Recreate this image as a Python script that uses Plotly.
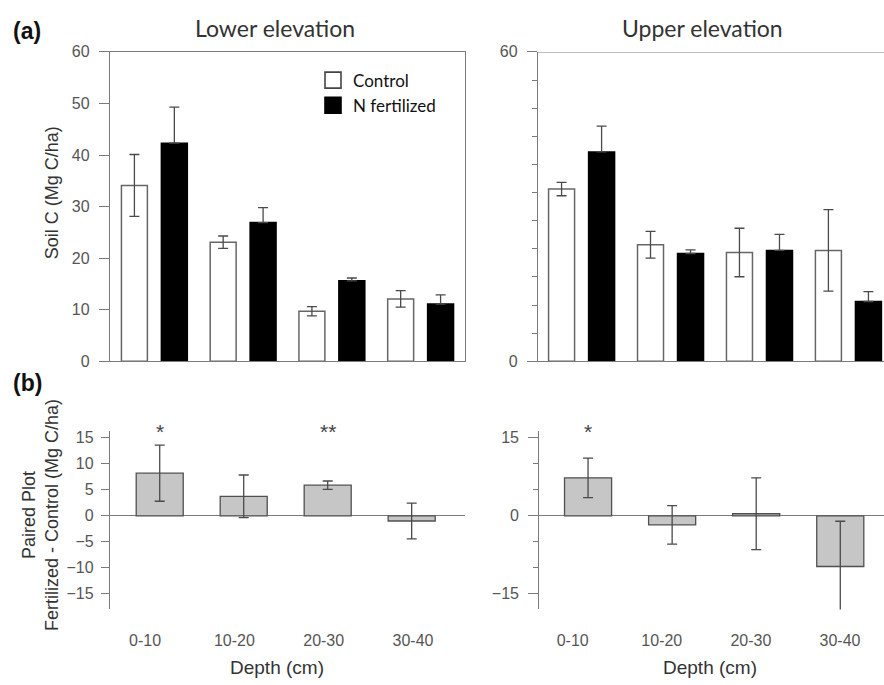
import plotly.graph_objects as go

# ---------------- data ----------------
depths = ["0-10", "10-20", "20-30", "30-40"]

lower_control = [34.1, 23.1, 9.7, 12.1]
lower_control_se = [6.0, 1.2, 0.9, 1.6]
lower_nfert = [42.3, 26.9, 15.6, 11.1]
lower_nfert_se = [7.0, 2.9, 0.55, 1.8]

upper_control = [33.4, 22.6, 21.1, 21.5]
upper_control_se = [1.3, 2.6, 4.7, 7.9]
upper_nfert = [40.6, 20.9, 21.5, 11.6]
upper_nfert_se = [5.0, 0.7, 3.1, 1.9]

diff_lower = [8.2, 3.75, 5.9, -1.0]
diff_lower_se = [5.4, 4.1, 0.8, 3.45]
diff_upper = [7.3, -1.75, 0.4, -9.75]
diff_upper_se = [3.8, 3.7, 6.9, 8.7]

sig_lower = ["*", "", "**", ""]
sig_upper = ["*", "", "", ""]

top_ticks = [0, 10, 20, 30, 40, 50, 60]
upper_minor = [i * 60 / 11 for i in range(12)]
diff_ticks = [-15, -10, -5, 0, 5, 10, 15]

# ---------------- style ----------------
W, H = 884, 685
AX = "#7a7a7a"
TXT = "#555555"
ERR = "#4a4a4a"
TICKFONT = dict(family="Liberation Sans, Arial", size=16, color=TXT)
CTRL_MARK = dict(color="white", line=dict(color="#666666", width=1.5))
NF_MARK = dict(color="black", line=dict(color="black", width=1.5))

def px_x(p):
    return p / W

def px_y(p):
    return 1 - p / H

fig = go.Figure()

def err(arr, one_sided=False):
    d = dict(type="data", array=arr, color=ERR, thickness=1.3, width=5)
    if one_sided:
        d.update(symmetric=False, arrayminus=[0] * len(arr))
    return d

fig.add_trace(go.Bar(x=depths, y=lower_control, name="Control", showlegend=False,
                     marker=CTRL_MARK, error_y=err(lower_control_se),
                     xaxis="x", yaxis="y", offsetgroup="c"))
fig.add_trace(go.Bar(x=depths, y=lower_nfert, name="N fertilized", showlegend=False,
                     marker=NF_MARK, error_y=err(lower_nfert_se, True),
                     xaxis="x", yaxis="y", offsetgroup="n"))
fig.add_trace(go.Bar(x=depths, y=upper_control, name="Control", showlegend=False,
                     marker=CTRL_MARK, error_y=err(upper_control_se),
                     xaxis="x2", yaxis="y2", offsetgroup="c"))
fig.add_trace(go.Bar(x=depths, y=upper_nfert, name="N fertilized", showlegend=False,
                     marker=NF_MARK, error_y=err(upper_nfert_se, True),
                     xaxis="x2", yaxis="y2", offsetgroup="n"))
gray_marker = dict(color="#c6c6c6", line=dict(color="#505050", width=1.3))
fig.add_trace(go.Bar(x=depths, y=diff_lower, showlegend=False, width=0.56,
                     marker=gray_marker, error_y=err(diff_lower_se),
                     xaxis="x3", yaxis="y3"))
fig.add_trace(go.Bar(x=depths, y=diff_upper, showlegend=False, width=0.56,
                     marker=gray_marker, error_y=err(diff_upper_se),
                     xaxis="x4", yaxis="y4"))
# carriers for the depth tick-label axes (invisible)
fig.add_trace(go.Scatter(x=depths, y=[0] * 4, mode="markers", marker=dict(opacity=0),
                         showlegend=False, hoverinfo="skip", xaxis="x5", yaxis="y3"))
fig.add_trace(go.Scatter(x=depths, y=[0] * 4, mode="markers", marker=dict(opacity=0),
                         showlegend=False, hoverinfo="skip", xaxis="x6", yaxis="y4"))
# legend keys (larger square swatches, as in the original legend)
fig.add_trace(go.Scatter(x=[None], y=[None], mode="markers", name="Control",
                         marker=dict(symbol="square", size=16, color="white",
                                     line=dict(color="#444444", width=1.6)),
                         xaxis="x", yaxis="y"))
fig.add_trace(go.Scatter(x=[None], y=[None], mode="markers", name="N fertilized",
                         marker=dict(symbol="square", size=16, color="black",
                                     line=dict(color="black", width=1.6)),
                         xaxis="x", yaxis="y"))

top_dom = [px_y(362.3), px_y(45)]
bot_dom = [px_y(616.7), px_y(433.3)]

fig.update_layout(
    width=W, height=H, margin=dict(l=0, r=0, t=0, b=0), autosize=False,
    paper_bgcolor="white", plot_bgcolor="white",
    barmode="group", bargap=0.1, bargroupgap=0.35,
    showlegend=True,
    legend=dict(x=px_x(313), y=px_y(56), xanchor="left", yanchor="top",
                font=dict(family="Lato", size=17, color="#111111"),
                bgcolor="rgba(0,0,0,0)", tracegroupgap=0, itemwidth=30),
    xaxis=dict(domain=[px_x(110), px_x(465)], range=[-0.5, 3.5], type="category",
               showline=True, linecolor=AX, linewidth=1.3, mirror=True,
               showticklabels=False, ticks="", showgrid=False, anchor="y"),
    yaxis=dict(domain=top_dom, range=[0, 60], tickvals=top_ticks,
               showline=True, linecolor=AX, linewidth=1.3, mirror=True,
               ticks="outside", ticklen=10, tickcolor=AX, tickwidth=1.3,
               tickfont=TICKFONT, ticklabelstandoff=6, showgrid=False,
               zeroline=False, anchor="x"),
    xaxis2=dict(domain=[px_x(538), 1.0], range=[-0.49, 3.40], type="category",
                showline=True, linecolor=AX, linewidth=1.3,
                showticklabels=False, ticks="", showgrid=False, anchor="y2"),
    yaxis2=dict(domain=top_dom, range=[0, 60], tickvals=[0, 60],
                showline=True, linecolor=AX, linewidth=1.3,
                ticks="outside", ticklen=10, tickcolor=AX, tickwidth=1.3,
                minor=dict(tickvals=upper_minor, ticks="outside", ticklen=5,
                           tickcolor=AX, tickwidth=1.3, showgrid=False),
                tickfont=TICKFONT, ticklabelstandoff=6, showgrid=False,
                zeroline=False, anchor="x2"),
    xaxis3=dict(domain=[px_x(110), px_x(465)], range=[-0.592, 3.635], type="category",
                showline=False, showticklabels=False, ticks="", showgrid=False,
                anchor="y3"),
    yaxis3=dict(domain=bot_dom, range=[-18.0, 16.4], tickvals=diff_ticks,
                showline=True, linecolor=AX, linewidth=1.3,
                ticks="outside", ticklen=8, tickcolor=AX, tickwidth=1.3,
                tickfont=TICKFONT, ticklabelstandoff=4, showgrid=False,
                zeroline=True, zerolinecolor=AX, zerolinewidth=1.3, anchor="x3"),
    xaxis4=dict(domain=[px_x(539.3), 1.0], range=[-0.58, 3.52], type="category",
                showline=False, showticklabels=False, ticks="", showgrid=False,
                anchor="y4"),
    yaxis4=dict(domain=bot_dom, range=[-18.0, 16.4], tickvals=[-15, 0, 15],
                showline=True, linecolor=AX, linewidth=1.3,
                ticks="outside", ticklen=10, tickcolor=AX, tickwidth=1.3,
                minor=dict(tickvals=[-10, -5, 5, 10], ticks="outside", ticklen=5,
                           tickcolor=AX, tickwidth=1.3, showgrid=False),
                tickfont=TICKFONT, ticklabelstandoff=6, showgrid=False,
                zeroline=True, zerolinecolor=AX, zerolinewidth=1.3, anchor="x4"),
    xaxis5=dict(overlaying="x3", anchor="y3", range=[-0.392, 3.582], type="category",
                showline=False, ticks="outside", ticklen=16,
                tickcolor="rgba(0,0,0,0)", tickfont=TICKFONT, showgrid=False),
    xaxis6=dict(overlaying="x4", anchor="y4", range=[-0.375, 3.494], type="category",
                showline=False, ticks="outside", ticklen=16,
                tickcolor="rgba(0,0,0,0)", tickfont=TICKFONT, showgrid=False),
)

# top border of the upper-elevation panel (its right edge lies outside the frame)
fig.add_shape(type="line", xref="x2 domain", yref="y2", x0=0, x1=1, y0=60, y1=60,
              line=dict(color=AX, width=1.3))

ann = []
def text(x, y, s, size, family="Liberation Sans, Arial", color="#333333", bold=False,
         angle=0):
    ann.append(dict(x=px_x(x), y=px_y(y), xref="paper", yref="paper", text=f"<b>{s}</b>" if bold else s,
                    showarrow=False, xanchor="center", yanchor="middle", textangle=angle,
                    font=dict(family=family, size=size, color=color)))

text(27, 24, "(a)", 23, color="#111111", bold=True)
text(27, 385, "(b)", 23, color="#111111", bold=True)
text(275, 21, "Lower elevation", 23, family="Lato", color="#333333")
text(702, 21, "Upper elevation", 23, family="Lato", color="#333333")
text(52, 190, "Soil C (Mg C/ha)", 18, angle=-90)
ann.append(dict(x=px_x(40), y=px_y(520), xref="paper", yref="paper",
                text="Paired Plot<br>Fertilized - Control (Mg C/ha)", showarrow=False,
                xanchor="center", yanchor="middle", textangle=-90, align="center",
                font=dict(family="Liberation Sans, Arial", size=18, color="#333333")))
text(277, 676, "Depth (cm)", 19)
text(710, 676, "Depth (cm)", 19)

STAR = dict(family="Liberation Sans, Arial", size=21, color="#444444")
for d, s in zip(depths, sig_lower):
    if s:
        ann.append(dict(x=d, y=16.3, xref="x3", yref="y3", text=s, showarrow=False,
                        yanchor="middle", font=STAR))
for d, s in zip(depths, sig_upper):
    if s:
        ann.append(dict(x=d, y=16.3, xref="x4", yref="y4", text=s, showarrow=False,
                        yanchor="middle", font=STAR))

fig.update_layout(annotations=ann)

fig.write_html("out.html", config={"displayModeBar": False, "responsive": False},
               post_script="document.body.style.margin='0';")
